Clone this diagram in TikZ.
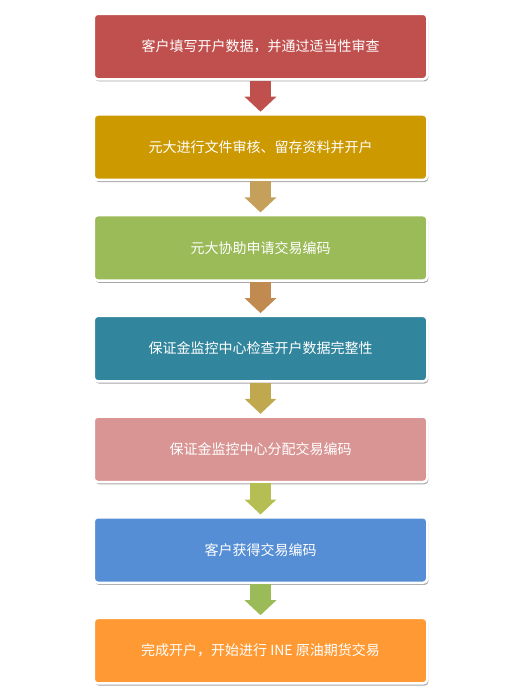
\documentclass[tikz,border=0pt]{standalone}
\usepackage{fontspec}
\setmainfont{Noto Sans CJK SC}
\usetikzlibrary{positioning,arrows.meta,shadows}
\definecolor{stepred}{HTML}{C0504D}
\definecolor{stepgold}{HTML}{CC9900}
\definecolor{stepgreen}{HTML}{9BBB59}
\definecolor{stepteal}{HTML}{31859C}
\definecolor{steppink}{HTML}{D99594}
\definecolor{stepblue}{HTML}{558ED5}
\definecolor{steporange}{HTML}{FF9933}
\definecolor{arrtan}{HTML}{C4A05A}
\definecolor{arrbrown}{HTML}{C08A50}
\definecolor{arrkhaki}{HTML}{BFA84E}
\definecolor{arrolive}{HTML}{B5BE52}
\tikzset{
stepbox/.style={draw=white,line width=2.5bp,rounded corners=4bp,
minimum width=333.5bp,minimum height=65.5bp,inner sep=0pt,
text=white,font=\fontsize{14bp}{16bp}\selectfont,
drop shadow={shadow xshift=1.2bp,shadow yshift=-2.2bp,opacity=0.35,fill=black}},
blockarrow/.style={-{Triangle[length=15bp,width=31bp]},line width=20.5bp,line cap=butt,shorten >=1.5bp}
}
\begin{document}
\begin{tikzpicture}[node distance=32.7bp]
\useasboundingbox (0,0) rectangle (520bp,-700bp);
\node[stepbox,fill=stepred] (a) at (260.5bp,-46.5bp) {客户填写开户数据，并通过适当性审查};
\node[stepbox,fill=stepgold,below=of a] (b) {元大进行文件审核、留存资料并开户};
\node[stepbox,fill=stepgreen,below=of b] (c) {元大协助申请交易编码};
\node[stepbox,fill=stepteal,below=of c] (d) {保证金监控中心检查开户数据完整性};
\node[stepbox,fill=steppink,below=of d] (e) {保证金监控中心分配交易编码};
\node[stepbox,fill=stepblue,below=of e] (f) {客户获得交易编码};
\node[stepbox,fill=steporange,below=of f] (g) {完成开户，开始进行 INE 原油期货交易};
\draw[blockarrow,stepred] (a) -- (b);
\draw[blockarrow,arrtan] (b) -- (c);
\draw[blockarrow,arrbrown] (c) -- (d);
\draw[blockarrow,arrkhaki] (d) -- (e);
\draw[blockarrow,arrolive] (e) -- (f);
\draw[blockarrow,stepgreen] (f) -- (g);
\end{tikzpicture}
\end{document}
